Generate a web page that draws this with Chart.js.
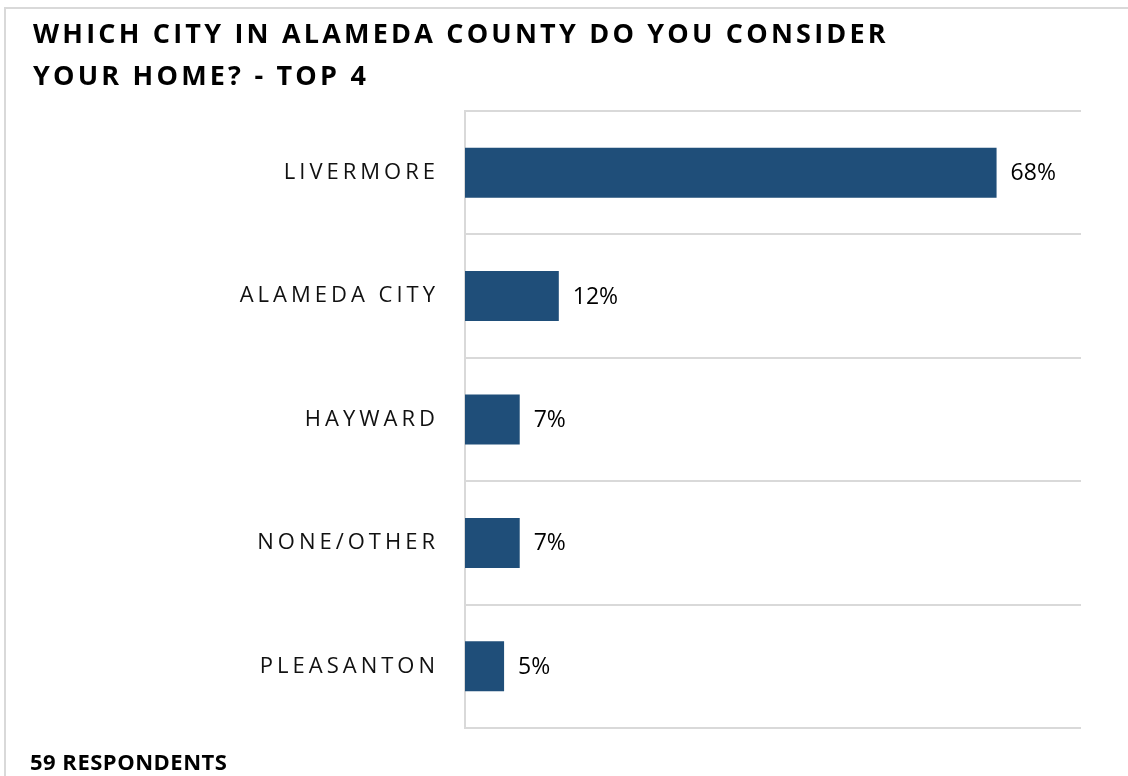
<!DOCTYPE html>
<html>
<head>
<meta charset="utf-8">
<script src="https://cdn.jsdelivr.net/npm/chart.js@4.4.0/dist/chart.umd.min.js"></script>
<style>
    html, body { margin: 0; padding: 0; background: #fff; overflow: hidden; }
    #frame {
        position: absolute; left: 4px; top: 7px;
        width: 1300px; height: 900px;
        border: 2px solid #d9d9d9;
    }
    #wrap { position: absolute; left: 0; top: 0; width: 1128px; height: 776px; }
</style>
</head>
<body>
<div id="frame"></div>
<div id="wrap"><canvas id="myChart" width="1128" height="776"></canvas></div>
<script>
const titleLines = ['WHICH CITY IN ALAMEDA COUNTY DO YOU CONSIDER', 'YOUR HOME? - TOP 4'];
const footNote = '59 RESPONDENTS';
const cities = ['LIVERMORE', 'ALAMEDA CITY', 'HAYWARD', 'NONE/OTHER', 'PLEASANTON'];
const shares = [68, 12, 7, 7, 5];

const barBlue = '#1f4e79';
const gridGrey = '#d9d9d9';

// spaced caps for the category names, plain text for everything else
const spacing = {
    id: 'spacing',
    beforeDraw(chart) {
        chart.ctx.letterSpacing = '4px';
    },
    beforeDatasetsDraw(chart) {
        chart.ctx.letterSpacing = '0px';
    }
};

const headings = {
    id: 'headings',
    afterDraw(chart) {
        const ctx = chart.ctx;
        ctx.save();
        ctx.fillStyle = '#000';
        ctx.textAlign = 'left';
        ctx.textBaseline = 'alphabetic';
        ctx.font = 'bold 27px "Open Sans"';
        ctx.letterSpacing = '3.2px';
        ctx.fillText(titleLines[0], 33, 43);
        ctx.fillText(titleLines[1], 33, 85);
        ctx.letterSpacing = '0.5px';
        ctx.font = 'bold 22px "Open Sans"';
        ctx.fillText(footNote, 30, 770);
        ctx.restore();
    }
};

const valueLabels = {
    id: 'valueLabels',
    afterDatasetsDraw(chart) {
        const ctx = chart.ctx;
        const meta = chart.getDatasetMeta(0);
        ctx.save();
        ctx.letterSpacing = '0px';
        ctx.font = '23px "Open Sans"';
        ctx.fillStyle = '#000';
        ctx.textAlign = 'left';
        ctx.textBaseline = 'middle';
        meta.data.forEach((bar, i) => {
            ctx.fillText(shares[i] + '%', bar.x + 14, bar.y + 1);
        });
        ctx.restore();
    }
};

new Chart(document.getElementById('myChart'), {
    type: 'bar',
    data: {
        labels: cities,
        datasets: [{
            data: shares,
            backgroundColor: barBlue,
            categoryPercentage: 1,
            barPercentage: 0.405
        }]
    },
    options: {
        indexAxis: 'y',
        responsive: false,
        animation: false,
        layout: { padding: { top: 111, bottom: 48, left: 0, right: 47 } },
        scales: {
            x: {
                display: false,
                min: 0,
                max: 78.8
            },
            y: {
                afterFit(scale) { scale.width = 465; },
                grid: {
                    offset: true,
                    color: gridGrey,
                    lineWidth: 2,
                    drawTicks: false
                },
                border: { color: gridGrey, width: 2 },
                ticks: {
                    padding: 26,
                    color: '#111',
                    font: { family: 'Open Sans', size: 22 }
                }
            }
        },
        plugins: {
            legend: { display: false },
            tooltip: { enabled: false }
        }
    },
    plugins: [spacing, headings, valueLabels]
});
</script>
</body>
</html>
